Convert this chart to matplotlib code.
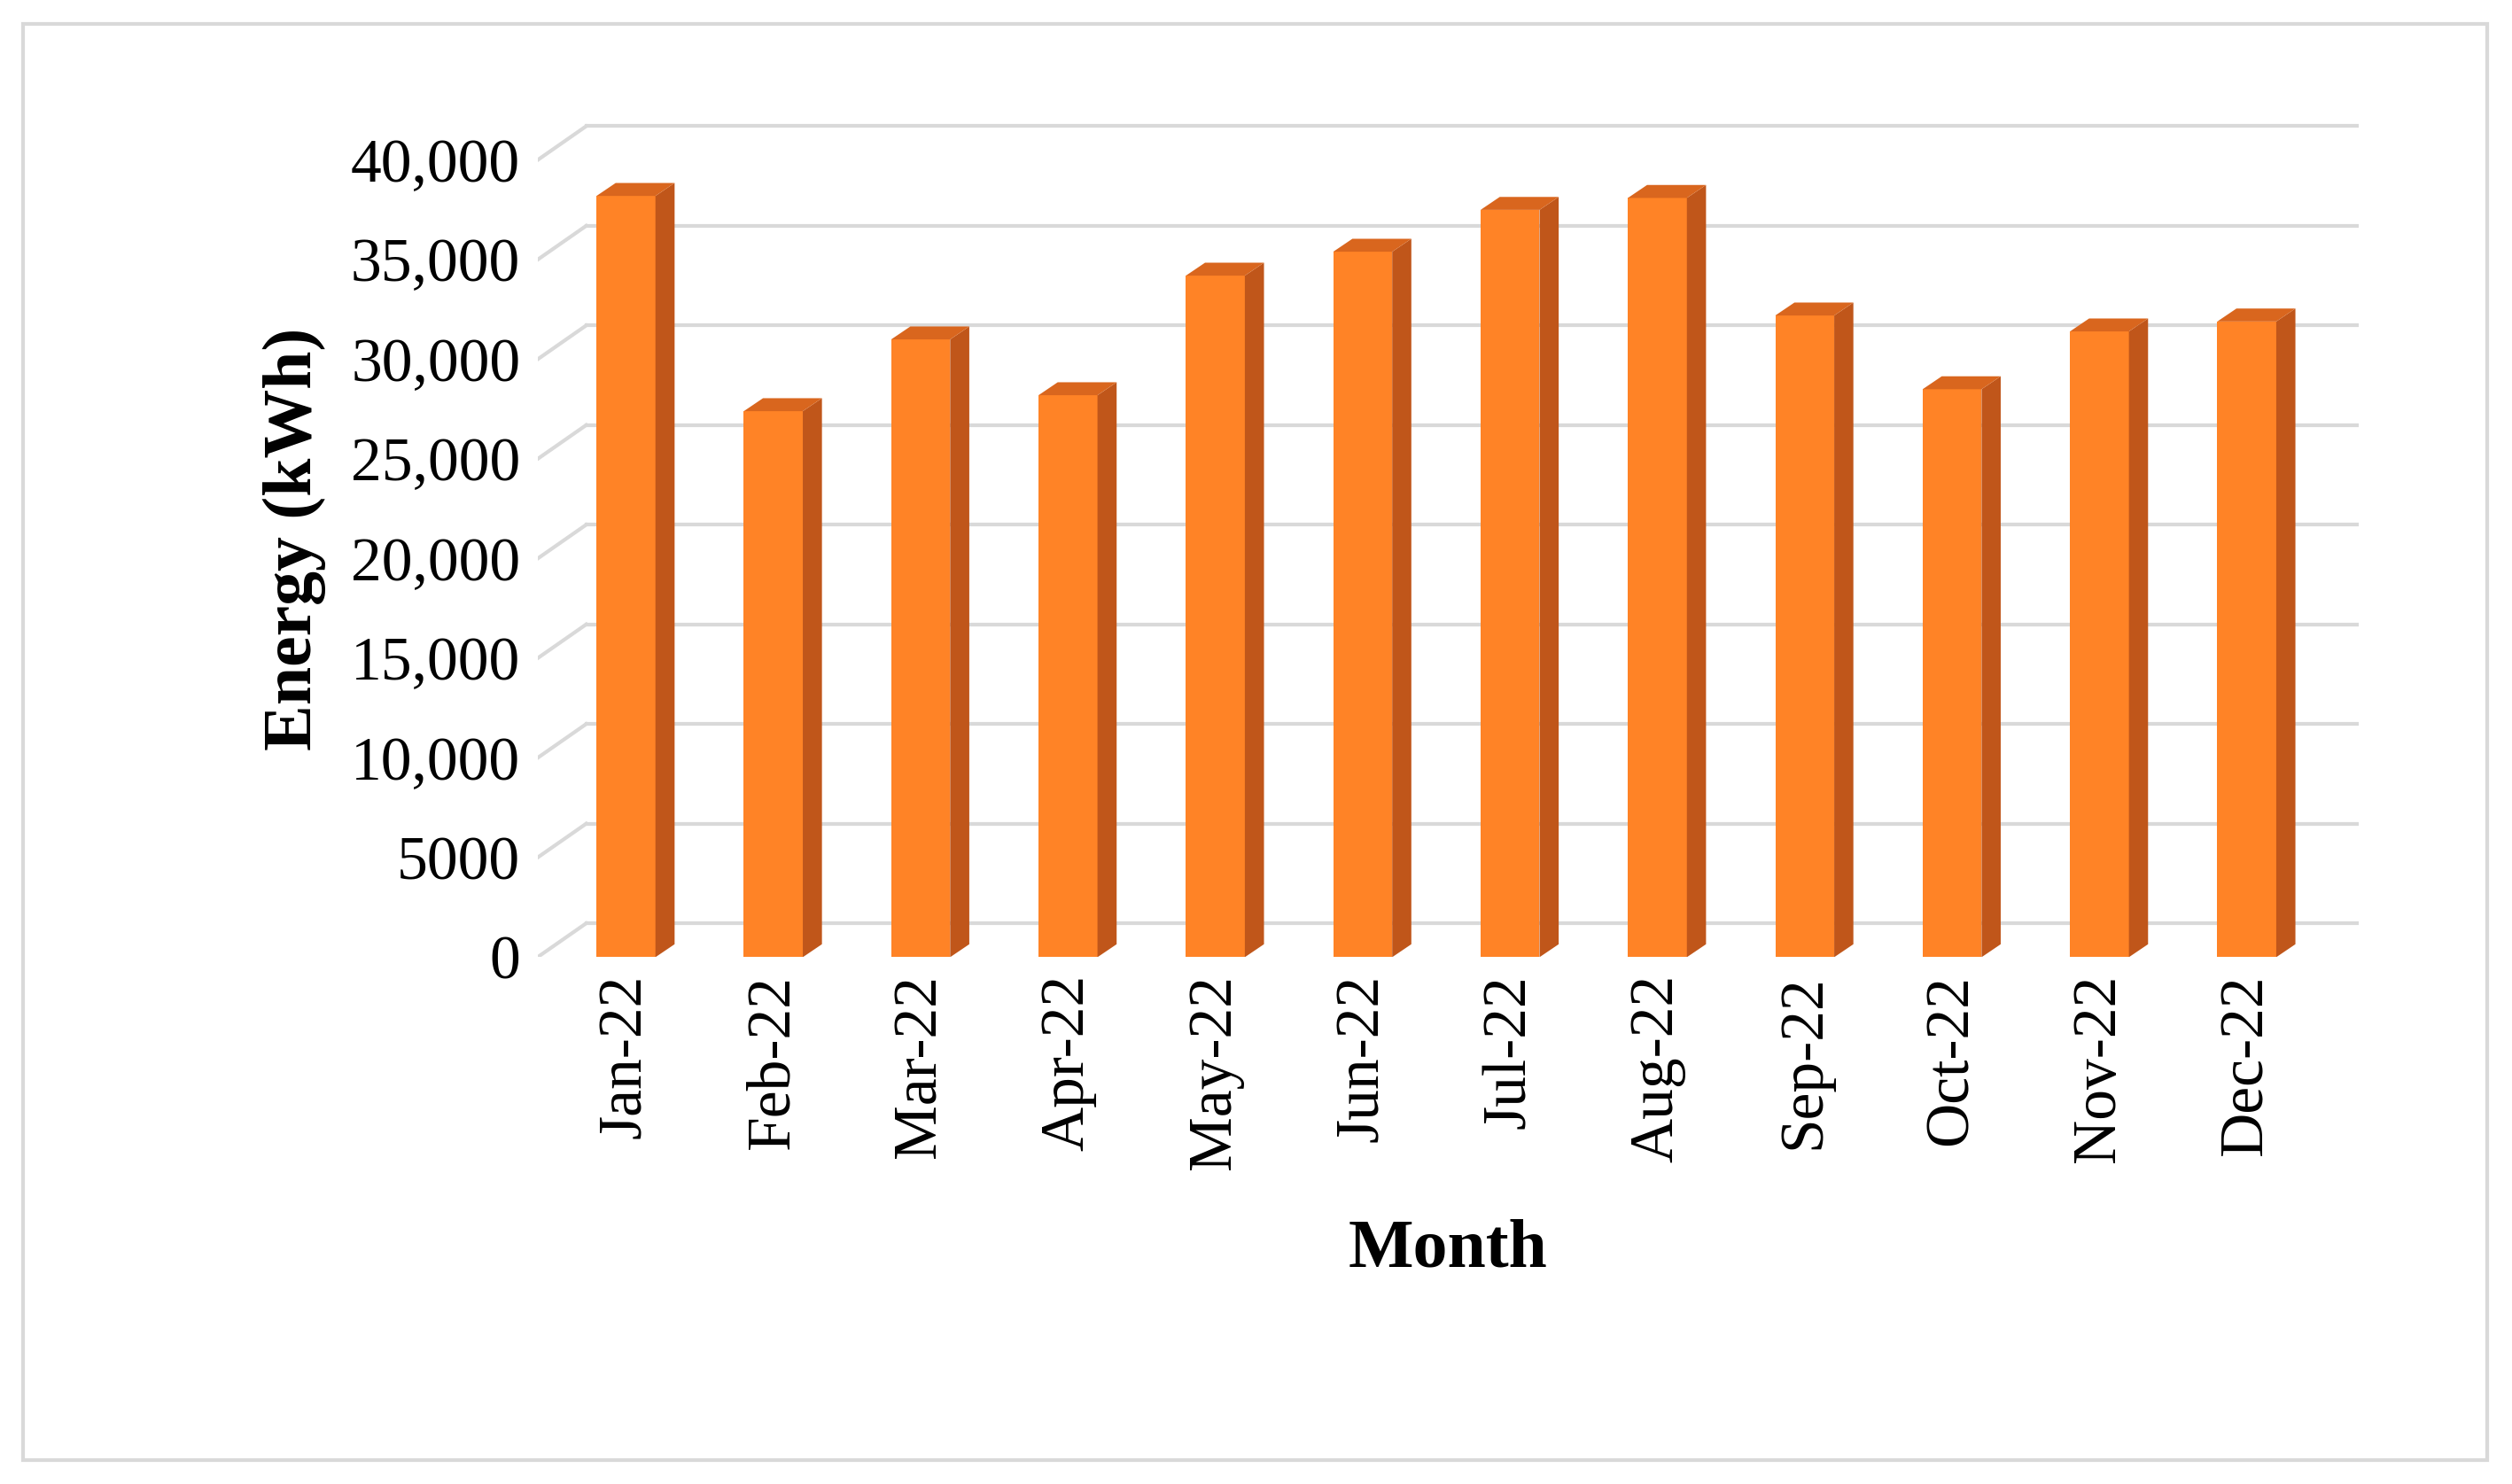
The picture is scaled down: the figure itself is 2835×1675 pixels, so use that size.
import matplotlib.pyplot as plt
from matplotlib.patches import Polygon, Rectangle

months = ['Jan-22', 'Feb-22', 'Mar-22', 'Apr-22', 'May-22', 'Jun-22',
          'Jul-22', 'Aug-22', 'Sep-22', 'Oct-22', 'Nov-22', 'Dec-22']
energy = [38200, 27400, 31000, 28200, 34200, 35400,
          37500, 38100, 32200, 28500, 31400, 31900]
yticks = [0, 5000, 10000, 15000, 20000, 25000, 30000, 35000, 40000]
ytick_labels = ['0', '5000', '10,000', '15,000', '20,000', '25,000',
                '30,000', '35,000', '40,000']

FRONT = '#FF8326'
SIDE = '#C0561A'
TOP = '#D9661E'
GRID = '#D9D9D9'

plt.rcParams['font.family'] = ['Liberation Serif', 'DejaVu Serif']

fig = plt.figure(figsize=(28.35, 16.75), dpi=100)
# light grey frame around the chart
fig.patches.append(Rectangle((0.009, 0.016), 0.981, 0.968, transform=fig.transFigure,
                             fill=False, edgecolor='#D9D9D9', linewidth=3))

ax = fig.add_axes([0.214, 0.355, 0.725, 0.564])
ax.set_xlim(-0.6, 11.76)
ax.set_ylim(0, 42000)

# back wall grid lines with a diagonal at the left
gdx, gdy = 0.33, 1700
for y in yticks:
    ax.plot([-0.6, -0.6 + gdx], [y, y + gdy], color=GRID, lw=3, zorder=1)
    ax.plot([-0.6 + gdx, 11.76], [y + gdy, y + gdy], color=GRID, lw=3, zorder=1)

w, sx, sy = 0.4, 0.13, 650
for i, v in enumerate(energy):
    x0 = i - w / 2
    ax.add_patch(Rectangle((x0, 0), w, v, facecolor=FRONT, edgecolor='none', zorder=3))
    ax.add_patch(Polygon([(x0 + w, 0), (x0 + w + sx, sy), (x0 + w + sx, v + sy), (x0 + w, v)],
                         facecolor=SIDE, edgecolor='none', zorder=3))
    ax.add_patch(Polygon([(x0, v), (x0 + w, v), (x0 + w + sx, v + sy), (x0 + sx, v + sy)],
                         facecolor=TOP, edgecolor='none', zorder=3))

ax.set_xticks(range(len(months)))
ax.set_xticklabels(months, rotation=90, fontsize=50)
ax.set_yticks(yticks)
ax.set_yticklabels(ytick_labels, fontsize=50)
ax.tick_params(length=0, pad=14)
for s in ax.spines.values():
    s.set_visible(False)

ax.set_xlabel('Month', fontsize=56, fontweight='bold', labelpad=40)
ax.set_ylabel('Energy (kWh)', fontsize=56, fontweight='bold', labelpad=20)

fig.savefig('out.png', dpi=100)
